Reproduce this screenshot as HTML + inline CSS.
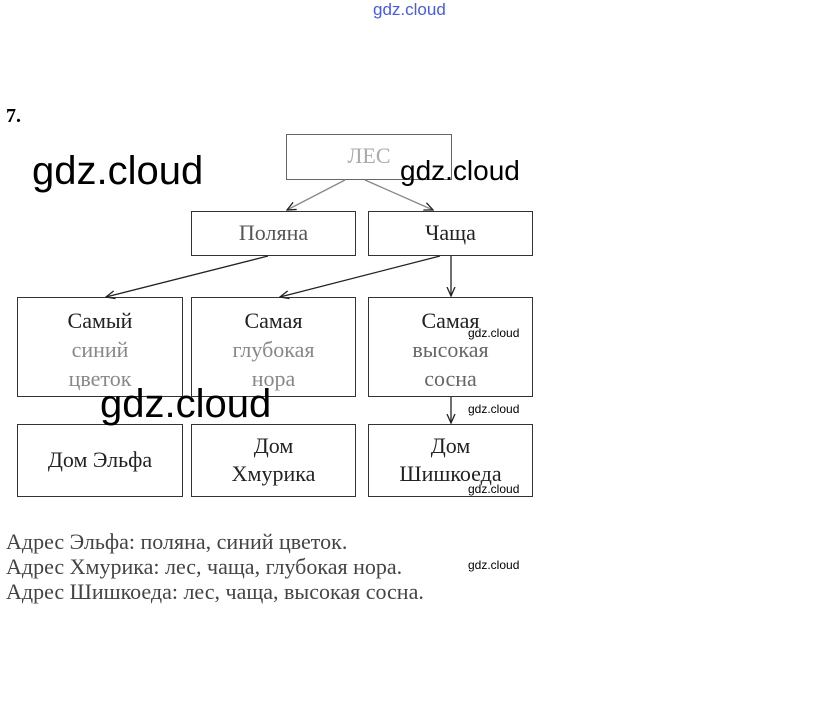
<!DOCTYPE html>
<html><head><meta charset="utf-8"><style>
body{margin:0;width:823px;height:707px;background:#fff;position:relative;overflow:hidden;font-family:"Liberation Serif","DejaVu Serif",serif;}
.b{position:absolute;border:1.5px solid #333;box-sizing:border-box;text-align:center;font-size:22px;color:#222;line-height:29px;}
.t{position:absolute;white-space:nowrap;}
.w{position:absolute;font-family:"Liberation Sans","DejaVu Sans",sans-serif;color:#000;white-space:nowrap;}
</style></head><body>
<div class="w" style="left:373px;top:0px;font-size:17px;color:#4a5ae8;">gdz.cloud</div>
<div class="t" style="left:6px;top:105px;font-size:20px;font-weight:bold;">7.</div>
<div class="b" style="left:286px;top:134px;width:166px;height:46px;border-color:#666;color:#aaa;padding-top:6px;">ЛЕС</div>
<div class="b" style="left:191px;top:211px;width:165px;height:45px;padding-top:6px;color:#555;">Поляна</div>
<div class="b" style="left:368px;top:211px;width:165px;height:45px;padding-top:6px;">Чаща</div>
<div class="b" style="left:17px;top:297px;width:166px;height:100px;padding-top:8px;">Самый<br><span style="color:#888">синий<br>цветок</span></div>
<div class="b" style="left:191px;top:297px;width:165px;height:100px;padding-top:8px;">Самая<br><span style="color:#888">глубокая<br>нора</span></div>
<div class="b" style="left:368px;top:297px;width:165px;height:100px;padding-top:8px;">Самая<br><span style="color:#666">высокая<br>сосна</span></div>
<div class="b" style="left:17px;top:424px;width:166px;height:73px;padding-top:20px;">Дом Эльфа</div>
<div class="b" style="left:191px;top:424px;width:165px;height:73px;padding-top:7px;line-height:28px;">Дом<br>Хмурика</div>
<div class="b" style="left:368px;top:424px;width:165px;height:73px;padding-top:7px;line-height:28px;">Дом<br>Шишкоеда</div>
<svg style="position:absolute;left:0;top:0" width="823" height="707">
<defs><marker id="a" markerWidth="10" markerHeight="10" refX="9" refY="5" orient="auto" markerUnits="userSpaceOnUse"><path d="M0,1 L9,5 L0,9" fill="none" stroke="#222" stroke-width="1.3"/></marker></defs>
<g stroke="#222" stroke-width="1.3" fill="none" marker-end="url(#a)">
<line x1="345" y1="180" x2="287" y2="210" stroke="#888"/>
<line x1="365" y1="180" x2="433" y2="210" stroke="#888"/>
<line x1="268" y1="256" x2="106" y2="297"/>
<line x1="440" y1="256" x2="280" y2="297"/>
<line x1="451" y1="256" x2="451" y2="296"/>
<line x1="451" y1="397" x2="451" y2="423"/>
</g></svg>
<div class="t" style="left:6px;top:529px;font-size:22px;color:#444;line-height:25px;">Адрес Эльфа: поляна, синий цветок.<br>Адрес Хмурика: лес, чаща, глубокая нора.<br>Адрес Шишкоеда: лес, чаща, высокая сосна.</div>
<div class="w" style="left:32px;top:149px;font-size:40px;">gdz.cloud</div>
<div class="w" style="left:400px;top:155px;font-size:28px;">gdz.cloud</div>
<div class="w" style="left:100px;top:382px;font-size:40px;">gdz.cloud</div>
<div class="w" style="left:468px;top:326px;font-size:12px;">gdz.cloud</div>
<div class="w" style="left:468px;top:402px;font-size:12px;">gdz.cloud</div>
<div class="w" style="left:468px;top:482px;font-size:12px;">gdz.cloud</div>
<div class="w" style="left:468px;top:558px;font-size:12px;">gdz.cloud</div>
</body></html>
